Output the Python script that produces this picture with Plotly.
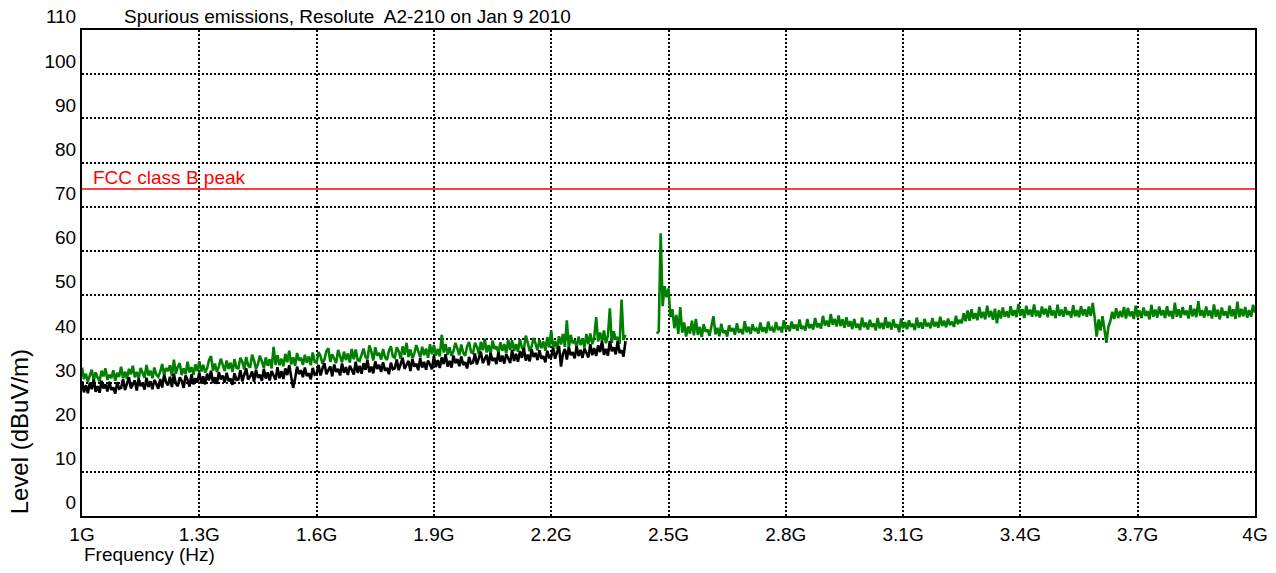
import plotly.graph_objects as go

# ---- data ----
title_text = "Spurious emissions, Resolute  A2-210 on Jan 9 2010"
x_tick_vals = [1.0, 1.3, 1.6, 1.9, 2.2, 2.5, 2.8, 3.1, 3.4, 3.7, 4.0]
x_tick_text = ["1G", "1.3G", "1.6G", "1.9G", "2.2G", "2.5G", "2.8G", "3.1G", "3.4G", "3.7G", "4G"]
y_tick_vals = [0, 10, 20, 30, 40, 50, 60, 70, 80, 90, 100, 110]

fcc_limit = 74.0
fcc_label = "FCC class B peak"

sweep_step = 0.005  # GHz
seg1_start = 1.00
seg2_start = 2.47

# green trace, 1.000 - 2.390 GHz
green_seg1 = [
    33.6, 31.0, 32.2, 30.4, 31.8, 33.1, 30.7, 32.5, 31.3, 30.5, 32.9, 31.6, 33.4, 30.8, 32.0, 31.2, 33.0, 30.6, 32.4, 31.5,
    33.8, 31.2, 32.7, 31.0, 33.3, 32.1, 34.0, 31.4, 32.6, 31.1, 33.5, 32.3, 31.3, 34.2, 31.8, 32.9, 31.2, 33.6, 32.0, 31.5,
    32.6, 34.4, 31.9, 33.5, 32.8, 34.1, 31.7, 35.4, 32.2, 33.8, 34.6, 31.9, 33.4, 32.1, 34.9, 32.5, 33.7, 31.9, 34.3, 32.8,
    35.0, 32.7, 34.2, 32.5, 33.4, 35.3, 36.2, 32.9, 34.5, 32.6, 33.8, 35.6, 34.0, 32.8, 35.2, 33.3, 34.7, 32.6, 35.5, 33.5,
    33.4, 35.8, 34.9, 33.2, 36.0, 34.1, 33.6, 36.5, 35.2, 33.3, 34.4, 36.3, 35.0, 33.5, 35.9, 34.0, 35.5, 33.4, 38.3, 34.2,
    36.4, 34.1, 35.6, 33.9, 36.7, 34.8, 37.4, 34.3, 35.9, 34.0, 36.9, 35.2, 35.8, 34.2, 36.5, 34.7, 36.1, 34.1, 37.0, 34.9,
    34.7, 37.1, 36.2, 34.5, 35.4, 37.3, 38.0, 34.9, 36.6, 35.7, 34.6, 37.6, 36.3, 34.8, 37.2, 35.3, 36.8, 34.7, 37.8, 35.5,
    37.7, 35.3, 35.1, 36.8, 37.9, 36.0, 35.5, 38.6, 37.2, 35.2, 38.2, 36.3, 36.9, 35.4, 37.8, 35.9, 35.3, 37.4, 38.4, 36.1,
    35.8, 38.2, 37.3, 35.6, 38.4, 36.5, 39.2, 36.0, 37.7, 35.7, 36.8, 38.7, 37.4, 35.9, 38.3, 36.4, 37.9, 35.8, 38.9, 36.6,
    38.7, 36.3, 37.8, 36.1, 41.0, 37.0, 38.9, 36.5, 38.2, 36.2, 37.3, 39.2, 37.9, 36.4, 38.8, 36.9, 36.3, 38.4, 39.4, 37.1,
    36.8, 39.2, 38.3, 36.6, 39.4, 37.5, 40.1, 37.0, 38.7, 36.7, 39.7, 37.8, 38.4, 36.9, 39.3, 37.4, 38.9, 36.8, 39.9, 37.6,
    39.8, 37.4, 38.9, 37.2, 40.0, 38.1, 37.6, 40.8, 39.3, 37.3, 38.4, 40.3, 39.0, 37.5, 39.9, 38.0, 39.5, 37.4, 40.5, 38.2,
    42.0, 38.1, 39.6, 37.9, 40.7, 38.8, 41.2, 38.3, 44.3, 38.0, 41.0, 39.1, 39.7, 38.2, 40.6, 38.7, 40.2, 38.1, 41.2, 38.9,
    41.3, 38.9, 40.4, 45.0, 39.5, 41.5, 39.6, 42.0, 39.1, 40.8, 47.0, 39.2, 41.8, 39.9, 40.5, 39.0, 49.0, 39.8, 41.0,
]

# green trace, 2.470 - 4.000 GHz
green_seg2 = [
    41.3, 41.8, 64.0, 47.5, 52.0, 49.5, 51.5, 45.0, 46.8, 42.5, 45.5, 41.2, 47.3, 41.5, 43.8, 40.6, 42.9, 41.3, 44.2, 40.9,
    44.6, 41.0, 42.8, 40.5, 43.4, 41.7, 42.2, 40.8, 43.1, 45.2, 41.1, 42.6, 40.7, 43.5, 41.4, 42.0, 40.6, 43.2, 41.8, 42.5,
    41.0, 43.6, 41.5, 42.3, 41.1, 44.1, 41.6, 42.8, 41.2, 43.4, 41.9, 42.4, 41.3, 43.8, 41.7, 42.7, 41.4, 44.0, 42.0, 42.6,
    41.6, 43.9, 42.1, 42.8, 41.5, 44.3, 42.2, 43.1, 41.8, 44.0, 42.4, 43.3, 41.9, 44.5, 42.3, 43.0, 42.0, 44.6, 42.5, 43.4,
    42.2, 44.8, 42.7, 43.6, 42.4, 45.3, 43.1, 44.2, 42.8, 45.7, 43.3, 44.6, 42.9, 45.4, 43.0, 44.5, 42.6, 45.0, 42.9, 44.1,
    42.3, 44.6, 42.6, 43.5, 42.1, 44.9, 42.7, 43.8, 42.2, 44.4, 42.8, 43.6, 42.0, 44.8, 42.5, 43.7, 42.3, 45.0, 42.6, 43.9,
    42.2, 44.5, 42.7, 43.4, 41.6, 44.7, 42.5, 43.9, 42.3, 44.3, 42.8, 43.5, 42.1, 44.9, 42.6, 43.8, 42.4, 44.6, 42.9, 43.7,
    42.5, 44.8, 42.9, 43.9, 42.6, 45.1, 43.0, 44.2, 42.7, 44.7, 43.2, 44.0, 42.8, 45.3, 43.4, 44.4, 43.6, 45.9, 44.1, 46.5,
    44.2, 46.8, 44.6, 45.9, 44.3, 47.3, 44.8, 46.2, 44.5, 47.6, 45.0, 46.4, 44.4, 46.9, 43.6, 46.6, 44.7, 47.2, 45.1, 46.3,
    44.9, 47.5, 45.3, 46.6, 45.0, 48.0, 45.4, 46.8, 44.8, 47.6, 45.5, 46.7, 45.1, 47.9, 45.2, 46.5, 44.9, 47.4, 45.6, 46.9,
    45.0, 47.6, 45.4, 46.5, 44.8, 47.8, 45.3, 46.7, 45.1, 47.3, 45.5, 46.4, 44.9, 47.7, 45.2, 46.6, 45.0, 47.5, 45.4, 46.8,
    45.1, 47.4, 45.3, 48.2, 44.9, 40.6, 44.5, 42.0, 45.2, 41.5, 39.2, 42.8, 44.1, 46.2, 44.6, 47.0, 44.8, 46.4, 45.0, 47.3,
    44.7, 47.1, 45.2, 46.3, 44.6, 47.6, 45.0, 46.5, 44.8, 47.2, 45.3, 46.4, 44.5, 47.8, 45.1, 46.7, 44.9, 47.4, 45.4, 46.6,
    44.8, 47.5, 45.2, 46.4, 44.6, 48.3, 45.1, 46.8, 44.9, 47.3, 45.5, 46.5, 44.7, 47.7, 45.2, 46.9, 45.0, 48.6, 45.3, 46.6,
    44.9, 47.4, 45.3, 46.5, 44.7, 47.9, 45.1, 46.7, 44.5, 47.2, 45.4, 46.3, 44.8, 47.6, 45.2, 46.8, 44.6, 48.5, 45.0, 46.9,
    45.2, 47.3, 44.9, 46.6, 45.1, 47.8, 46.0,
]

# black trace, 1.000 - 2.390 GHz
black_seg1 = [
    30.5, 28.0, 29.6, 27.8, 30.2, 28.7, 30.9, 28.1, 29.4, 27.9, 30.6, 28.9, 29.8, 28.2, 30.4, 28.5, 29.1, 27.7, 30.3, 28.8,
    29.0, 31.0, 28.5, 30.2, 31.4, 28.9, 29.7, 30.7, 28.4, 31.1, 29.4, 30.1, 28.6, 31.3, 29.2, 30.5, 28.7, 30.8, 29.9, 28.8,
    31.0, 29.1, 32.0, 30.3, 29.6, 31.5, 29.2, 32.2, 30.0, 29.4, 31.4, 30.6, 29.0, 31.8, 30.8, 29.3, 32.1, 29.8, 31.2, 30.2,
    32.5, 30.0, 31.6, 29.8, 32.2, 30.7, 32.9, 30.1, 31.4, 29.9, 32.6, 30.9, 31.8, 30.2, 32.4, 30.5, 31.1, 29.7, 32.3, 30.8,
    30.9, 33.0, 30.5, 32.2, 33.4, 30.9, 31.6, 32.7, 30.4, 33.1, 31.3, 32.0, 30.6, 33.3, 31.1, 32.5, 30.7, 32.8, 31.8, 30.8,
    33.7, 31.2, 32.8, 31.0, 33.4, 31.9, 34.1, 31.3, 29.0, 31.1, 33.8, 32.1, 33.0, 31.4, 33.6, 31.7, 32.3, 30.9, 33.5, 32.0,
    32.2, 34.2, 31.8, 33.4, 34.6, 32.1, 32.9, 33.9, 31.6, 34.3, 32.6, 33.3, 31.8, 34.5, 32.4, 33.7, 31.9, 34.0, 33.1, 32.0,
    34.9, 32.4, 34.0, 32.2, 34.6, 33.1, 35.3, 32.5, 33.8, 32.3, 35.0, 33.3, 34.2, 32.6, 34.8, 32.9, 33.5, 32.1, 34.7, 33.2,
    33.4, 35.4, 33.0, 34.6, 35.8, 33.3, 34.1, 35.1, 32.8, 35.5, 33.8, 34.5, 33.0, 35.7, 33.6, 34.9, 33.1, 35.2, 34.3, 33.2,
    36.2, 33.7, 35.3, 33.5, 35.9, 34.4, 36.6, 33.8, 35.1, 33.6, 36.3, 34.6, 35.5, 33.9, 36.1, 34.2, 34.8, 33.4, 36.0, 34.5,
    34.7, 36.8, 34.3, 36.0, 37.2, 34.6, 35.4, 36.5, 34.1, 36.9, 35.1, 35.8, 34.4, 37.1, 34.9, 36.3, 34.5, 36.6, 35.7, 34.6,
    37.6, 35.1, 36.7, 34.9, 37.3, 35.8, 38.0, 35.2, 36.5, 35.0, 37.7, 36.0, 36.9, 35.3, 37.5, 35.6, 36.2, 34.8, 37.4, 35.9,
    36.0, 38.1, 35.6, 37.3, 38.5, 33.8, 36.7, 37.8, 35.4, 38.2, 36.4, 37.1, 35.7, 38.4, 36.2, 37.6, 35.8, 37.9, 37.0, 35.9,
    38.9, 36.4, 38.0, 36.2, 38.6, 37.1, 39.6, 36.5, 37.8, 36.3, 39.6, 37.3, 38.2, 36.6, 39.6, 36.9, 37.5, 36.1, 39.6,
]


def sweep(start, values):
    return [round(start + sweep_step * i, 4) for i in range(len(values))]


green_x = sweep(seg1_start, green_seg1) + [None] + sweep(seg2_start, green_seg2)
green_y = green_seg1 + [None] + green_seg2
black_x = sweep(seg1_start, black_seg1)
black_y = black_seg1

FONT = "Liberation Sans, Arial, sans-serif"

fig = go.Figure()
fig.add_trace(go.Scatter(x=green_x, y=green_y, mode="lines",
                         line=dict(color="#008000", width=2.6),
                         connectgaps=False, showlegend=False, hoverinfo="skip"))
fig.add_trace(go.Scatter(x=black_x, y=black_y, mode="lines",
                         line=dict(color="#000000", width=2.6),
                         showlegend=False, hoverinfo="skip"))

fig.add_shape(type="line", xref="paper", x0=0, x1=1, yref="y", y0=fcc_limit, y1=fcc_limit,
              line=dict(color="#ff0000", width=1.5))

fig.add_annotation(text=fcc_label, xref="paper", x=0.0077, yref="y", y=fcc_limit + 2.7,
                   xanchor="left", yanchor="middle", showarrow=False,
                   font=dict(family=FONT, size=19, color="#ff0000"))

fig.add_annotation(text=title_text, xref="paper", x=0.034, yref="paper", y=1.027,
                   xanchor="left", yanchor="middle", showarrow=False,
                   font=dict(family=FONT, size=19, color="black"))

fig.add_annotation(text="Frequency (Hz)", xref="paper", x=0.0, yref="paper", y=-0.08,
                   xanchor="left", yanchor="middle", showarrow=False,
                   font=dict(family=FONT, size=19, color="black"))

fig.add_annotation(text="Level (dBuV/m)", xref="paper", x=-0.053, yref="paper", y=0.0,
                   xanchor="center", yanchor="bottom", textangle=-90, showarrow=False,
                   font=dict(family=FONT, size=24, color="black"))

grid_style = dict(showgrid=True, gridcolor="black", griddash="2px,2px", gridwidth=1.6,
                  showline=True, linecolor="black", linewidth=2, mirror=True,
                  ticks="", zeroline=False, automargin=False,
                  tickfont=dict(family=FONT, size=19, color="black"))

fig.update_xaxes(range=[1.0, 4.0], tickmode="array", tickvals=x_tick_vals,
                 ticktext=x_tick_text, **grid_style)
fig.update_yaxes(range=[0, 110], tickmode="array", tickvals=y_tick_vals,
                 ticklabelposition="outside top", **grid_style)

fig.update_layout(width=1276, height=573, autosize=False,
                  margin=dict(l=82, r=21, t=30, b=57),
                  paper_bgcolor="white", plot_bgcolor="white")

fig.write_html("out.html")
